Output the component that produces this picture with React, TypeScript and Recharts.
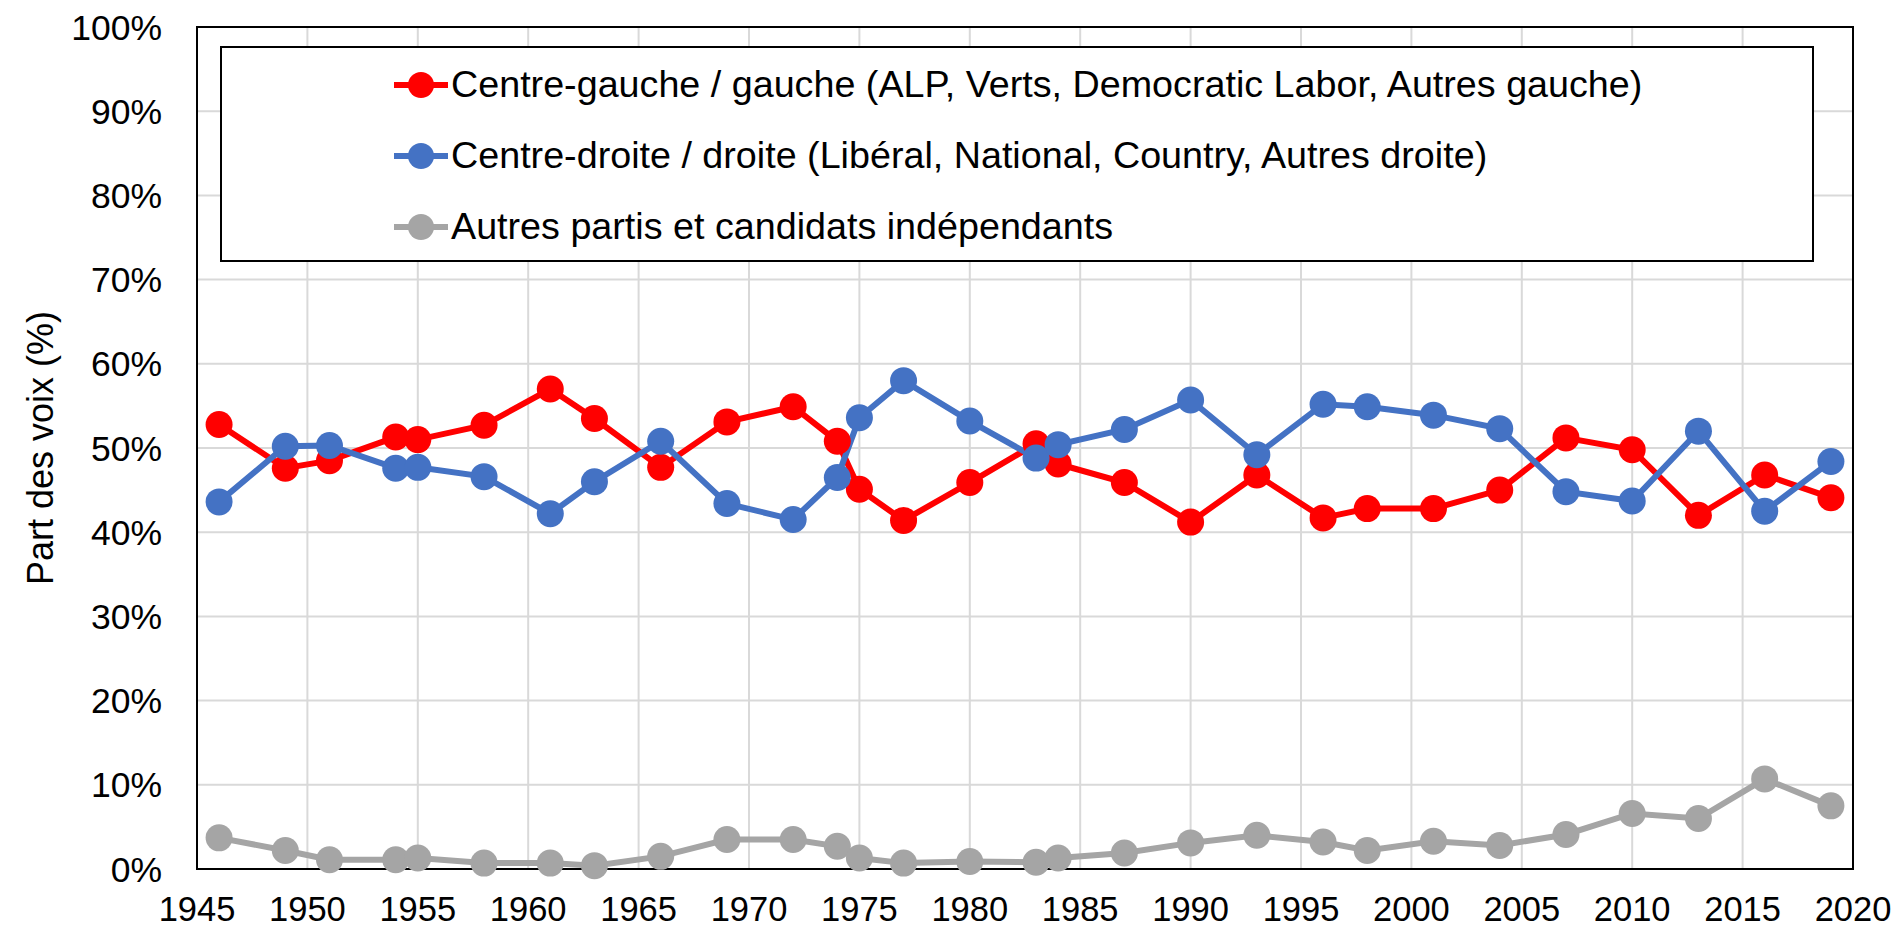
import { LineChart, Line, XAxis, YAxis, CartesianGrid, Legend, ReferenceArea } from 'recharts';

const years = [
  1946, 1949, 1951, 1954, 1955, 1958, 1961, 1963, 1966, 1969, 1972, 1974, 1975, 1977, 1980,
  1983, 1984, 1987, 1990, 1993, 1996, 1998, 2001, 2004, 2007, 2010, 2013, 2016, 2019
];

// Centre-gauche / gauche
const leftVotes = [
  52.8, 47.6, 48.5, 51.3, 51.0, 52.7, 57.0, 53.5, 47.7, 53.1, 54.9, 50.8, 45.1, 41.4, 45.9,
  50.5, 48.1, 45.9, 41.2, 46.8, 41.7, 42.8, 42.8, 45.0, 51.2, 49.8, 42.0, 46.8, 44.1
];

// Centre-droite / droite
const rightVotes = [
  43.6, 50.2, 50.3, 47.6, 47.7, 46.6, 42.2, 46.0, 50.8, 43.4, 41.5, 46.5, 53.6, 58.0, 53.2,
  48.8, 50.4, 52.2, 55.7, 49.2, 55.2, 54.9, 53.9, 52.3, 44.8, 43.7, 52.0, 42.5, 48.4
];

// Autres partis et indépendants
const otherVotes = [
  3.7, 2.2, 1.1, 1.1, 1.3, 0.7, 0.7, 0.4, 1.5, 3.5, 3.5, 2.7, 1.3, 0.7, 0.9,
  0.8, 1.3, 1.9, 3.1, 4.0, 3.2, 2.2, 3.3, 2.8, 4.1, 6.6, 6.0, 10.7, 7.5
];

const xTicks = [1945, 1950, 1955, 1960, 1965, 1970, 1975, 1980, 1985, 1990, 1995, 2000, 2005, 2010, 2015, 2020];
const yTicks = [0, 10, 20, 30, 40, 50, 60, 70, 80, 90, 100];

const series = [
  { key: 'left', name: 'Centre-gauche / gauche (ALP, Verts, Democratic Labor, Autres gauche)', color: '#FF0000' },
  { key: 'right', name: 'Centre-droite / droite (Libéral, National, Country, Autres droite)', color: '#4472C4' },
  { key: 'other', name: 'Autres partis et candidats indépendants', color: '#A5A5A5' }
];

const data = years.map((year, i) => ({
  year,
  left: leftVotes[i],
  right: rightVotes[i],
  other: otherVotes[i]
}));

const FONT = '"Liberation Sans", Arial, sans-serif';

function LegendBox() {
  return (
    <div
      style={{
        boxSizing: 'border-box',
        width: '100%',
        height: '100%',
        border: '2px solid #000',
        background: '#fff',
        paddingTop: 1,
        fontFamily: FONT
      }}
    >
      {series.map(s => (
        <div key={s.key} style={{ display: 'flex', alignItems: 'center', height: 71, paddingLeft: 170 }}>
          <svg width={58} height={30} style={{ flex: 'none' }}>
            <line x1={2} y1={15} x2={56} y2={15} stroke={s.color} strokeWidth={6} />
            <circle cx={29} cy={15} r={13} fill={s.color} />
          </svg>
          <span style={{ fontSize: 37.7, color: '#000', whiteSpace: 'nowrap', marginLeft: 1 }}>{s.name}</span>
        </div>
      ))}
    </div>
  );
}

export default function App() {
  return (
    <div style={{ position: 'absolute', left: 0, top: 0, background: '#fff' }}>
      <LineChart
        width={1899}
        height={931}
        data={data}
        margin={{ top: 27, right: 46, bottom: 0, left: 0 }}
        style={{ fontFamily: FONT }}
      >
        <CartesianGrid stroke="#D9D9D9" strokeWidth={2} />
        <XAxis
          dataKey="year"
          type="number"
          domain={[1945, 2020]}
          ticks={xTicks}
          height={62}
          tickLine={false}
          tickSize={0}
          tickMargin={28}
          axisLine={{ stroke: '#000', strokeWidth: 2 }}
          tick={{ fill: '#000', fontSize: 34.5 }}
          interval={0}
        />
        <YAxis
          type="number"
          domain={[0, 100]}
          ticks={yTicks}
          width={197}
          tickLine={false}
          tickSize={0}
          tickMargin={35}
          axisLine={{ stroke: '#000', strokeWidth: 2 }}
          tick={{ fill: '#000', fontSize: 35.5 }}
          tickFormatter={(v: number) => `${v}%`}
          interval={0}
          label={{
            content: () => (
              <text
                x={40}
                y={448}
                transform="rotate(-90 40 448)"
                textAnchor="middle"
                dominantBaseline="central"
                fontSize={36}
                fill="#000"
                fontFamily={FONT}
              >
                Part des voix (%)
              </text>
            )
          }}
        />
        <ReferenceArea
          x1={1945}
          x2={2020}
          y1={0}
          y2={100}
          fill="none"
          fillOpacity={0}
          stroke="#000"
          strokeWidth={2}
          ifOverflow="visible"
        />
        <Legend
          layout="vertical"
          align="center"
          verticalAlign="middle"
          content={() => <LegendBox />}
          wrapperStyle={{ left: 220, top: 46, width: 1594, height: 216 }}
        />
        {series.map(s => (
          <Line
            key={s.key}
            dataKey={s.key}
            name={s.name}
            type="linear"
            stroke={s.color}
            strokeWidth={6}
            dot={{ r: 13.5, fill: s.color, stroke: 'none' }}
            activeDot={false}
            isAnimationActive={false}
          />
        ))}
      </LineChart>
    </div>
  );
}
